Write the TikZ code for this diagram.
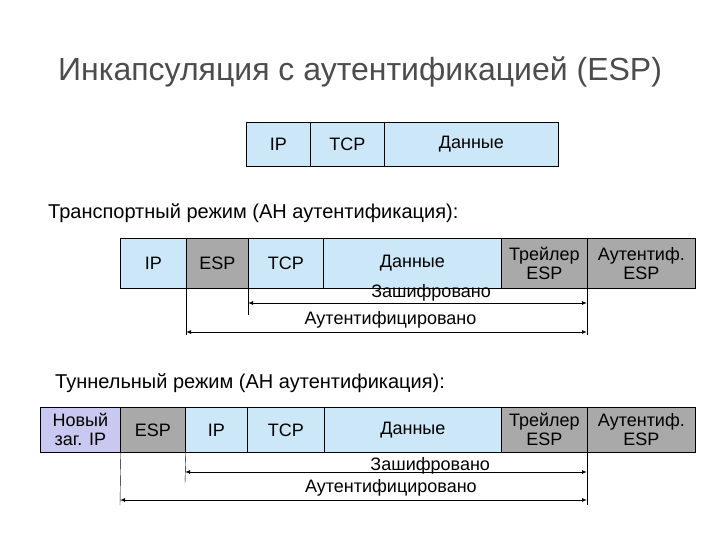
\documentclass[tikz,border=0pt]{standalone}
\usepackage{fontspec}
\setmainfont{Liberation Sans}
\usetikzlibrary{arrows.meta}
\definecolor{lblue}{HTML}{CCE8F8}
\definecolor{pgray}{HTML}{A9A9A9}
\definecolor{lav}{HTML}{C8C8F0}
\begin{document}
\begin{tikzpicture}[x=1pt,y=-1pt,
  cell/.style={draw=black,line width=0.8pt,anchor=north west,inner sep=0pt,align=center,font=\fontsize{18}{19}\selectfont},
  bl/.style={cell,fill=lblue}, gr/.style={cell,fill=pgray}, lv/.style={cell,fill=lav},
  dim/.style={line width=1pt,{Latex[length=5pt,width=4pt]}-{Latex[length=5pt,width=4pt]}},
  lbl/.style={font=\fontsize{18}{19}\selectfont,inner sep=0pt},
  sub/.style={font=\fontsize{20}{21}\selectfont,inner sep=0pt}]
\useasboundingbox (0,0) rectangle (720,540);
\node[font=\fontsize{32}{34}\selectfont,text=black!70] (title) at (360,72) {Инкапсуляция с аутентификацией (ESP)};
% top row
\node[bl,minimum width=64pt,minimum height=44pt] (t1) at (246,122) {IP};
\node[bl,minimum width=74pt,minimum height=44pt] (t2) at (310,122) {TCP};
\node[bl,minimum width=174pt,minimum height=44pt] (t3) at (384,122) {Данные};
\node[sub,anchor=west] (s1) at (48,213) {Транспортный режим (AH аутентификация):};
% transport
\node[bl,minimum width=66pt,minimum height=50pt] (a1) at (120,238) {IP};
\node[gr,minimum width=62pt,minimum height=50pt] (a2) at (186,238) {ESP};
\node[bl,minimum width=75pt,minimum height=50pt] (a3) at (248,238) {TCP};
\node[bl,minimum width=178pt,minimum height=50pt] (a4) at (323,238) {Данные};
\node[gr,minimum width=86pt,minimum height=50pt] (a5) at (501,238) {Трейлер\\ESP};
\node[gr,minimum width=108pt,minimum height=50pt] (a6) at (587,238) {Аутентиф.\\ESP};
\coordinate (p1) at (186,335); \coordinate (p2) at (248,315);
\draw (a2.south west) -- (p1); \draw (a3.south west) -- (p2);
\draw (a6.south west) -- (587,335);
\draw[dim] (248,303) -- node[lbl,above=1pt,pos=0.54] (e1) {Зашифровано} (587,303);
\draw[dim] (186,332) -- node[lbl,above=3pt,pos=0.51] (u1) {Аутентифицировано} (587,332);
\node[sub,anchor=west] (s2) at (55,383) {Туннельный режим (AH аутентификация):};
% tunnel
\node[lv,minimum width=80pt,minimum height=45pt] (b0) at (40,407) {Новый\\заг. IP};
\node[gr,minimum width=65pt,minimum height=45pt] (b1) at (120,407) {ESP};
\node[bl,minimum width=62pt,minimum height=45pt] (b2) at (185,407) {IP};
\node[bl,minimum width=77pt,minimum height=45pt] (b3) at (247,407) {TCP};
\node[bl,minimum width=177pt,minimum height=45pt] (b4) at (324,407) {Данные};
\node[gr,minimum width=86pt,minimum height=45pt] (b5) at (501,407) {Трейлер\\ESP};
\node[gr,minimum width=108pt,minimum height=45pt] (b6) at (587,407) {Аутентиф.\\ESP};
\draw (b0.south east) -- (120,505); \draw (b1.south east) -- (185,483);
\draw (b6.south west) -- (587,505);
\draw[dim] (185,472) -- node[lbl,above=-3pt,pos=0.61] (e2) {Зашифровано} (587,472);
\draw[dim] (120,500) -- node[lbl,above=3pt,pos=0.58] (u2) {Аутентифицировано} (587,500);
\end{tikzpicture}
\end{document}
